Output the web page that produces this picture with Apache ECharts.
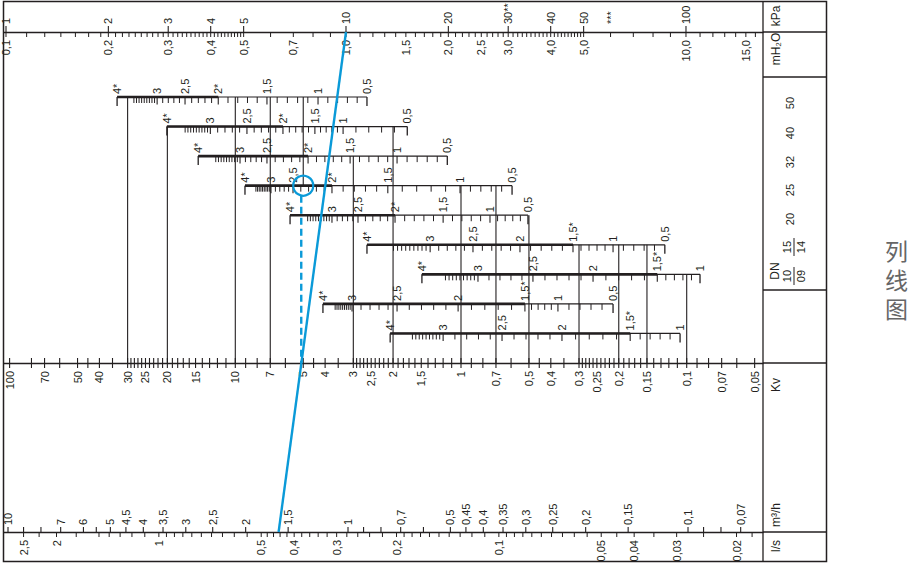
<!DOCTYPE html>
<html>
<head>
<meta charset="utf-8">
<title>列线图</title>
<script src="https://cdn.jsdelivr.net/npm/echarts@6.0.0/dist/echarts.min.js"></script>
<style>
html,body{margin:0;padding:0;background:#fff;}
#chart{width:912px;height:565px;}
</style>
</head>
<body>
<div id="chart"></div>
<script>
// ===================== DATA =====================
// Pressure-drop scale (top): kPa above the line, mH2O below
const kPaLabels = [1, 2, 3, 4, 5, 10, 20, 30, 40, 50, 100];
const kPaTexts = ['1', '2', '3', '4', '5', '10', '20', '30**', '40', '50', '100'];
const kPaNotes = [60];
const kPaNoteTexts = ['***'];
const mH2OLabels = [0.1, 0.2, 0.3, 0.4, 0.5, 0.7, 1.0, 1.5, 2.0, 2.5, 3.0, 4.0, 5.0, 10.0, 15.0];
const mH2OTicks = [0.1, 0.115, 0.13, 0.145, 0.16, 0.175, 0.19, 0.2, 0.21, 0.22, 0.23, 0.24, 0.25, 0.26, 0.27, 0.28, 0.29,
  0.3, 0.31, 0.32, 0.33, 0.34, 0.35, 0.36, 0.37, 0.38, 0.39, 0.4, 0.41, 0.42, 0.43, 0.44, 0.45, 0.46, 0.47, 0.48, 0.49,
  0.5, 0.6, 0.7, 0.8, 0.9, 1.0, 1.1, 1.2, 1.3, 1.4, 1.5, 1.6, 1.7, 1.8, 1.9, 2.0, 2.1, 2.2, 2.3, 2.4, 2.5, 2.6, 2.7, 2.8, 2.9,
  3.0, 3.1, 3.2, 3.3, 3.4, 3.5, 3.6, 3.7, 3.8, 3.9, 4.0, 4.1, 4.2, 4.3, 4.4, 4.5, 4.6, 4.7, 4.8, 4.9,
  5.0, 6, 7, 8, 9, 10, 11, 12, 13, 14, 15, 16];

// Kv scale (middle)
const kvLabels = [100, 70, 50, 40, 30, 25, 20, 15, 10, 7, 5, 4, 3, 2.5, 2, 1.5, 1, 0.7, 0.5, 0.4, 0.3, 0.25, 0.2, 0.15, 0.1, 0.07, 0.05];
const kvTicks = [100, 80, 70, 60, 50, 45, 40, 35, 30, 29, 28, 27, 26, 25, 24, 23, 22, 21, 20, 19, 18, 17, 16, 15, 14, 13, 12, 11,
  10, 9, 8, 7, 6, 5, 4.5, 4, 3.5, 3, 2.9, 2.8, 2.7, 2.6, 2.5, 2.4, 2.3, 2.2, 2.1, 2, 1.9, 1.8, 1.7, 1.6, 1.5, 1.4, 1.3, 1.2, 1.1,
  1, 0.9, 0.8, 0.7, 0.6, 0.5, 0.45, 0.4, 0.35, 0.3, 0.29, 0.28, 0.27, 0.26, 0.25, 0.24, 0.23, 0.22, 0.21, 0.2, 0.19, 0.18, 0.17, 0.16,
  0.15, 0.14, 0.13, 0.12, 0.11, 0.1, 0.09, 0.08, 0.07, 0.06, 0.05];

// Flow scale (bottom): m3/h above, l/s below
const flowLabels = [10, 7, 6, 5, 4.5, 4, 3.5, 3, 2.5, 2, 1.5, 1, 0.7, 0.5, 0.45, 0.4, 0.35, 0.3, 0.25, 0.2, 0.15, 0.1, 0.07];
const flowTicks = [10, 9, 8, 7, 6, 5.5, 5, 4.5, 4, 3.5, 3, 2.5, 2, 1.5, 1, 0.9, 0.8, 0.7, 0.6, 0.5, 0.45, 0.4, 0.35, 0.3, 0.25, 0.2, 0.15, 0.1, 0.09, 0.08, 0.07];
const lsLabels = [2.5, 2, 1, 0.5, 0.4, 0.3, 0.2, 0.1, 0.05, 0.04, 0.03, 0.02];
const lsTicks = [2.5, 2.25, 2, 1.75, 1.5, 1.4, 1.3, 1.2, 1.1, 1, 0.95, 0.9, 0.85, 0.8, 0.75, 0.7, 0.65, 0.6, 0.55, 0.5, 0.48, 0.46, 0.44, 0.42, 0.4,
  0.38, 0.36, 0.34, 0.32, 0.3, 0.28, 0.26, 0.24, 0.22, 0.2, 0.19, 0.18, 0.17, 0.16, 0.15, 0.14, 0.13, 0.12, 0.11, 0.1, 0.095, 0.09,
  0.085, 0.08, 0.075, 0.07, 0.065, 0.06, 0.055, 0.05, 0.045, 0.04, 0.035, 0.03, 0.025, 0.02, 0.018];

// Valve presetting rows (Kv at each presetting mark)
const dnRows = ['DN50', 'DN40', 'DN32', 'DN25', 'DN20', 'DN15/14', 'DN10/09', 'R8', 'R9'];
const presetA = ['4*', '3', '2,5', '2*', '1,5', '1', '0,5'];
const presetB = ['4*', '3', '2,5', '2', '1,5*', '1', '0,5'];
const presetC = ['4*', '3', '2,5', '2', '1,5*', '1'];
const kvDN50 = [33.4, 22.2, 16.7, 11.9, 7.24, 4.30, 2.61];
const kvDN40 = [20.1, 12.9, 8.88, 6.15, 4.44, 3.33, 1.73];
const kvDN32 = [14.6, 9.53, 7.24, 4.76, 3.10, 1.92, 1.15];
const kvDN25 = [9.06, 6.95, 5.55, 3.73, 2.11, 1.01, 0.594];
const kvDN20 = [5.72, 3.73, 2.86, 1.96, 1.20, 0.744, 0.505];
const kvDN15 = [2.61, 1.37, 0.885, 0.548, 0.319, 0.212, 0.125];
const kvDN10 = [1.49, 0.841, 0.480, 0.260, 0.135, 0.0873];
const kvR8 = [4.09, 3.04, 1.92, 1.03, 0.521, 0.372, 0.212];
const kvR9 = [2.06, 1.20, 0.658, 0.357, 0.178, 0.107];

// Vertical Kv guide lines: Kv value, row where it starts, row where it ends
const guideKv = [30, 20, 10, 7, 5, 3, 2, 1, 0.7, 0.5, 0.3, 0.2, 0.15, 0.1];
const guideFrom = ['DN50', 'DN40', 'DN50', 'DN50', 'DN50', 'DN32', 'DN40', 'DN25', 'DN25', 'DN20', 'DN15/14', 'DN15/14', 'DN15/14', 'DN10/09'];
const guideTo = ['Kv', 'Kv', 'Kv', 'Kv', 'DN25', 'Kv', 'Kv', 'Kv', 'Kv', 'Kv', 'Kv', 'Kv', 'Kv', 'Kv'];

// Worked example
const exampleDp = 10;     // kPa
const exampleKv = 5;
const exampleRow = 'DN25';
const exampleQ = 1.6;     // m3/h

// Title characters (vertical title)
const titleChars = ['列', '线', '图'];

// ===================== LAYOUT / STYLE =====================
const INK = '#231f20';
const BLUE = '#0a9ad8';
const FONT_FAMILY = '"Liberation Sans", Arial, Helvetica, sans-serif';
const FS = 11;
const FIRST = 0.42;
const rowKv = [kvDN50, kvDN40, kvDN32, kvDN25, kvDN20, kvDN15, kvDN10, kvR8, kvR9];
const rowLabels = [presetA, presetA, presetA, presetA, presetA, presetB, presetC, presetB, presetC];
const yCats = dnRows.concat(['Kv']);
const KV_ROW = yCats.indexOf('Kv');

const fmt = v => String(v).replace('.', ',');
const fmt1 = v => v.toFixed(1).replace('.', ',');

function vtext(x, y, text, below, size) {
  return {
    type: 'text', x: x, y: y, rotation: Math.PI / 2,
    style: { text: text, fill: INK, fontSize: size || FS, fontFamily: FONT_FAMILY,
      align: below ? 'right' : 'left', verticalAlign: 'middle' }
  };
}
function vline(x, y1, y2, w, color) {
  return { type: 'line', shape: { x1: x, y1: y1, x2: x, y2: y2 }, style: { stroke: color || INK, lineWidth: w || 1 } };
}
function hline(x1, x2, y, w) {
  return { type: 'line', shape: { x1: x1, y1: y, x2: x2, y2: y }, style: { stroke: INK, lineWidth: w || 1 } };
}

function tickSeries(xi, values, yVal, up, down, w) {
  return {
    type: 'custom', xAxisIndex: xi, yAxisIndex: xi, clip: false, silent: true, z: 3,
    data: values.map(v => [v, yVal]),
    renderItem: (p, api) => {
      const c = api.coord([api.value(0), api.value(1)]);
      return vline(c[0], c[1] - up, c[1] + down, w);
    }
  };
}
function labelSeries(xi, values, texts, yVal, offset, below) {
  return {
    type: 'custom', xAxisIndex: xi, yAxisIndex: xi, clip: false, silent: true, z: 3,
    data: values.map(v => [v, yVal]),
    renderItem: (p, api) => {
      const c = api.coord([api.value(0), api.value(1)]);
      return vtext(c[0], c[1] + (below ? offset : -offset), texts[p.dataIndex], below);
    }
  };
}

// ===================== CHART =====================
const chart = echarts.init(document.getElementById('chart'), null, { renderer: 'svg' });
const axisLineStyle = { show: true, onZero: false, lineStyle: { color: INK, width: 1.3 } };
const hidden = { axisTick: { show: false }, axisLabel: { show: false }, splitLine: { show: false } };

const series = [];
// Pressure scale
series.push(tickSeries(1, kPaLabels, 1, 6, 0, 1.1));
series.push(labelSeries(1, kPaLabels, kPaTexts, 1, 8, false));
series.push(labelSeries(1, kPaNotes, kPaNoteTexts, 1, 8, false));
series.push(tickSeries(1, mH2OTicks.map(v => v * 10), 1, 0, 5, 1));
series.push(labelSeries(1, mH2OLabels.map(v => v * 10), mH2OLabels.map(fmt1), 1, 8, true));
// Kv scale
series.push(tickSeries(0, kvTicks, KV_ROW, 5, 5, 1.1));
series.push(labelSeries(0, kvLabels, kvLabels.map(fmt), KV_ROW, 8, true));
// Flow scale
series.push(tickSeries(2, flowTicks, 0, 5, 0, 1.1));
series.push(labelSeries(2, flowLabels, flowLabels.map(fmt), 0, 7, false));
series.push(tickSeries(2, lsTicks.map(v => v * 3.6), 0, 0, 5, 1));
series.push(labelSeries(2, lsLabels.map(v => v * 3.6), lsLabels.map(fmt), 0, 8, true));

// Guide lines
series.push({
  type: 'custom', xAxisIndex: 0, yAxisIndex: 0, clip: false, silent: true, z: 2,
  data: guideKv.map((v, i) => [v, yCats.indexOf(guideFrom[i])]),
  renderItem: (p, api) => {
    const a = api.coord([api.value(0), api.value(1)]);
    const b = api.coord([api.value(0), yCats.indexOf(guideTo[p.dataIndex])]);
    return vline(a[0], a[1], b[1], 1.1);
  }
});

// Presetting rows
series.push({
  type: 'custom', xAxisIndex: 0, yAxisIndex: 0, clip: false, silent: true, z: 4,
  data: dnRows.map((n, i) => [rowKv[i][0], i]),
  renderItem: (p, api) => {
    const r = p.dataIndex;
    const kv = rowKv[r], lab = rowLabels[r];
    const ps = lab.map(t => parseFloat(t.replace(',', '.')));
    const xs = kv.map(v => api.coord([v, r])[0]);
    const y = api.coord([kv[0], r])[1];
    const ch = [];
    ch.push(hline(xs[0], xs[xs.length - 1], y, 1.2));
    const st = [];
    lab.forEach((t, i) => { if (t.indexOf('*') >= 0) st.push(i); });
    ch.push(hline(xs[st[0]], xs[st[1]], y, 2.6));
    for (let i = 0; i < kv.length - 1; i++) {
      const n = Math.round((ps[i] - ps[i + 1]) * 10);
      const a = Math.log10(kv[i]), b = Math.log10(kv[i + 1]);
      for (let k = 1; k < n; k++) {
        const f = ps[i] === 4 ? FIRST + (1 - FIRST) * (k - 1) / (n - 1) : k / n;
        const x = api.coord([Math.pow(10, a + (b - a) * f), r])[0];
        ch.push(vline(x, y, y + 6, 1));
      }
    }
    xs.forEach((x, i) => {
      const end = i === 0 || i === xs.length - 1;
      ch.push(vline(x, y, y + (end ? 9 : 7.5), end ? 1.3 : 1.1));
      ch.push(vtext(x, y - 3, lab[i], false));
    });
    return { type: 'group', children: ch };
  }
});

// Worked example: circle and dashed drop line
series.push({
  type: 'custom', xAxisIndex: 0, yAxisIndex: 0, clip: false, silent: true, z: 6,
  data: [[exampleKv, yCats.indexOf(exampleRow)]],
  renderItem: (p, api) => {
    const c = api.coord([api.value(0), api.value(1)]);
    const b = api.coord([api.value(0), KV_ROW]);
    return { type: 'group', children: [
      { type: 'circle', shape: { cx: c[0], cy: c[1], r: 10 }, style: { fill: 'none', stroke: BLUE, lineWidth: 2.2 } },
      { type: 'line', shape: { x1: c[0] - 2, y1: c[1] + 10, x2: c[0] - 2, y2: b[1] }, style: { stroke: BLUE, lineWidth: 2.4, lineDash: [7, 4] } }
    ] };
  }
});

// Frame and unit column (layout)
const COLX = 763, RX = 826.5;
const graphic = [
  { id: 'frame', type: 'rect', shape: { x: 3.5, y: 1.5, width: RX - 3.5, height: 560 }, style: { fill: 'none', stroke: INK, lineWidth: 1.5 }, silent: true },
  { id: 'colLine', type: 'line', shape: { x1: COLX, y1: 1.5, x2: COLX, y2: 561.5 }, style: { stroke: INK, lineWidth: 1.3 }, silent: true }
];
[32, 77, 290, 363, 532].forEach((y, i) => graphic.push({ id: 'div' + i, type: 'line', shape: { x1: COLX, y1: y, x2: RX, y2: y }, style: { stroke: INK, lineWidth: 1.3 }, silent: true }));
function gtext(id, x, y, text, size) {
  return { id: id, type: 'text', x: x, y: y, rotation: Math.PI / 2, silent: true,
    style: { text: text, fill: INK, fontSize: size || 12, fontFamily: FONT_FAMILY, align: 'center', verticalAlign: 'middle' } };
}
graphic.push(gtext('uKpa', 776, 16, 'kPa'));
graphic.push(gtext('uMh2o', 776, 49, 'mH₂O'));
graphic.push(gtext('uKv', 776, 385, 'Kv'));
graphic.push(gtext('uM3h', 776, 515, 'm³/h'));
graphic.push(gtext('uLs', 776, 546, 'l/s'));
graphic.push(gtext('dnHead', 775, 271, 'DN'));
[['50', 103], ['40', 133], ['32', 162], ['25', 190], ['20', 219]].forEach((d, i) => graphic.push(gtext('dn' + i, 790, d[1], d[0], 11)));
graphic.push(gtext('dn15', 787, 247, '15', 11));
graphic.push(gtext('dn14', 801, 247, '14', 11));
graphic.push({ id: 'dnBar1', type: 'line', shape: { x1: 794, y1: 238, x2: 794, y2: 256 }, style: { stroke: INK, lineWidth: 1 } });
graphic.push(gtext('dn10', 787, 276, '10', 11));
graphic.push(gtext('dn09', 801, 276, '09', 11));
graphic.push({ id: 'dnBar2', type: 'line', shape: { x1: 794, y1: 267, x2: 794, y2: 285 }, style: { stroke: INK, lineWidth: 1 } });

const option = {
  animation: false,
  backgroundColor: '#fff',
  title: titleChars.map((t, i) => ({
    text: t, left: 885, top: 239 + i * 29, padding: 0,
    textStyle: { fontSize: 23, lineHeight: 25, color: '#666', fontWeight: 'normal', fontFamily: '"Liberation Sans", "Noto Sans CJK SC", sans-serif' }
  })),
  grid: [
    { left: 4, right: 149, top: 97, bottom: 202, outerBoundsMode: 'none' },
    { left: 4, right: 149, top: 32, height: 20, outerBoundsMode: 'none' },
    { left: 4, right: 149, top: 512, height: 20, outerBoundsMode: 'none' }
  ],
  xAxis: [
    Object.assign({ gridIndex: 0, type: 'log', logBase: 10, inverse: true, min: 0.045915, max: 105.88, position: 'bottom', axisLine: axisLineStyle }, hidden),
    Object.assign({ gridIndex: 1, type: 'log', logBase: 10, min: 0.98655, max: 168.47, position: 'top', axisLine: axisLineStyle }, hidden),
    Object.assign({ gridIndex: 2, type: 'log', logBase: 10, inverse: true, min: 0.060181, max: 10.275, position: 'bottom', axisLine: axisLineStyle }, hidden)
  ],
  yAxis: [
    { gridIndex: 0, type: 'category', data: yCats, boundaryGap: false, inverse: true, show: false },
    { gridIndex: 1, type: 'value', min: 0, max: 1, show: false },
    { gridIndex: 2, type: 'value', min: 0, max: 1, show: false }
  ],
  series: series,
  graphic: graphic
};
chart.setOption(option);

// Worked example straight line: pressure drop -> flow, via the axes' own scales
const pa = chart.convertToPixel({ gridIndex: 1 }, [exampleDp, 1]);
const pb = chart.convertToPixel({ gridIndex: 2 }, [exampleQ, 0]);
chart.setOption({ graphic: [{ id: 'exampleLine', type: 'line', z: 100, silent: true,
  shape: { x1: pa[0], y1: pa[1], x2: pb[0], y2: pb[1] }, style: { stroke: BLUE, lineWidth: 2.4 } }] });
</script>
</body>
</html>
